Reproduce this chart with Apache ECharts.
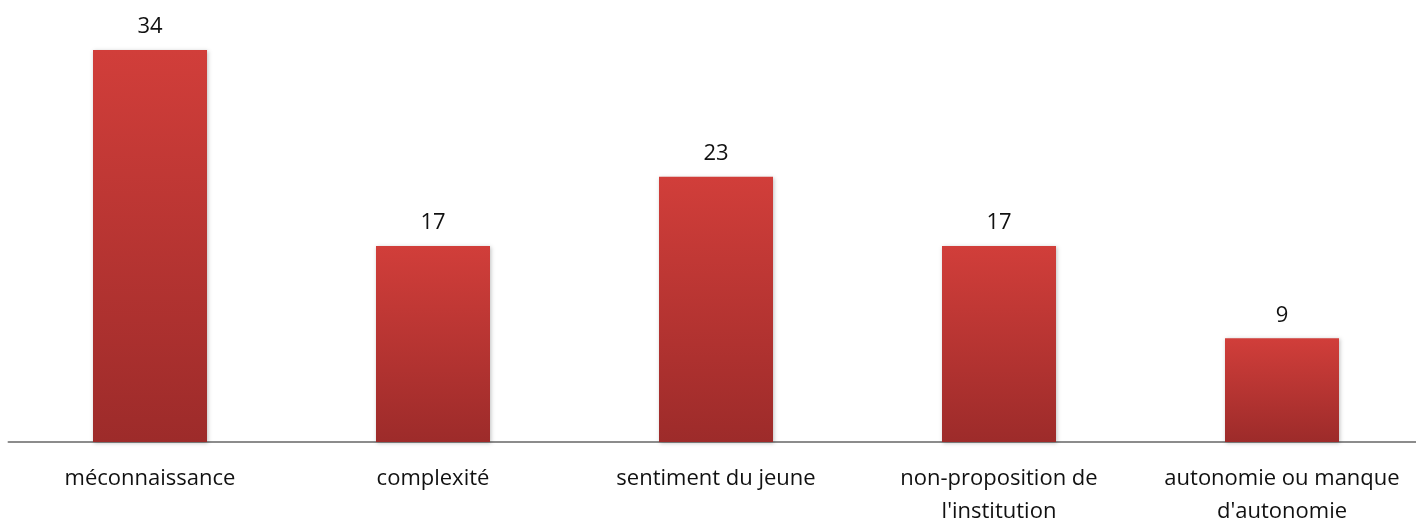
<!DOCTYPE html>
<html><head><meta charset="utf-8">
<script src="https://cdn.jsdelivr.net/npm/echarts@6/dist/echarts.min.js"></script>
<style>html,body{margin:0;padding:0;background:#fff}#c{width:1416px;height:519px}</style>
</head><body><div id="c"></div>
<script>
const categories = ['méconnaissance', 'complexité', 'sentiment du jeune', 'non-proposition de\nl\'institution', 'autonomie ou manque\nd\'autonomie'];
const values = [34, 17, 23, 17, 9];
const chart = echarts.init(document.getElementById('c'));
chart.setOption({
  animation: false,
  grid: { left: 8.5, top: 38.5, width: 1415, height: 403.5, outerBoundsMode: 'none', containLabel: false },
  xAxis: {
    type: 'category', data: categories,
    axisLine: { lineStyle: { color: '#8c8c8c', width: 2 } },
    axisTick: { show: false },
    axisLabel: { interval: 0, color: '#111', fontFamily: 'Open Sans', fontSize: 22, lineHeight: 33, margin: 20 }
  },
  yAxis: { type: 'value', min: 0, max: 35, show: false, splitLine: { show: false } },
  series: [{
    type: 'bar', data: values, barWidth: 114,
    itemStyle: {
      color: new echarts.graphic.LinearGradient(0, 0, 0, 1, [
        { offset: 0, color: '#d13e3a' }, { offset: 1, color: '#9d2b2a' }
      ]),
      shadowColor: 'rgba(0,0,0,0.25)', shadowBlur: 4, shadowOffsetX: 1, shadowOffsetY: 1
    },
    label: { show: true, position: 'top', distance: 12, color: '#111', fontFamily: 'Open Sans', fontSize: 22 }
  }]
});
</script></body></html>
